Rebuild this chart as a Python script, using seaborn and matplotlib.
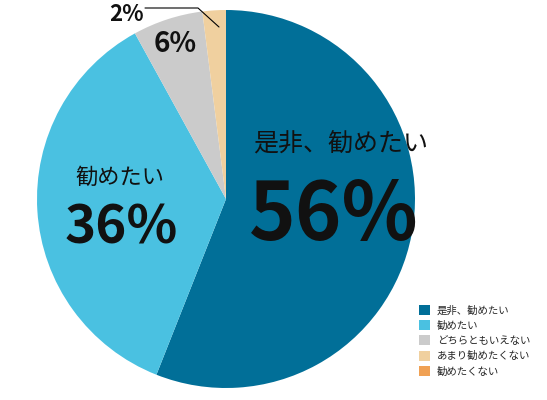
import matplotlib
matplotlib.use('Agg')
import matplotlib.pyplot as plt
import seaborn as sns
from matplotlib.patches import Patch

sns.set_style('white')
plt.rcParams['font.family'] = ['Noto Sans CJK JP', 'DejaVu Sans']

# data
categories = ['是非、勧めたい', '勧めたい', 'どちらともいえない', 'あまり勧めたくない', '勧めたくない']
values = [56, 36, 6, 2, 0]
colors = ['#016f98', '#4ac1e1', '#cbcbcb', '#f0d09f', '#f0a154']

W, H = 547, 400
def Y(py):
    # pixel row -> data y
    return H - py

fig = plt.figure(figsize=(W / 100, H / 100), dpi=100)
ax = fig.add_axes([0, 0, 1, 1])

ax.pie(values, colors=colors, startangle=90, counterclock=False,
       center=(226, Y(199)), radius=189,
       wedgeprops=dict(linewidth=0))
ax.set_xlim(0, W)
ax.set_ylim(0, H)
ax.set_aspect('equal')
ax.axis('off')

# slice labels
ax.text(341, Y(151), '是非、勧めたい', fontsize=18, ha='center', va='baseline', color='#111111')
ax.text(334, Y(240), '56%', fontsize=57, fontweight='bold', ha='center', va='baseline', color='#111111')
ax.text(120, Y(184), '勧めたい', fontsize=16, ha='center', va='baseline', color='#111111')
ax.text(121, Y(243), '36%', fontsize=38, fontweight='bold', ha='center', va='baseline', color='#111111')
ax.text(175, Y(52), '6%', fontsize=20, fontweight='bold', ha='center', va='baseline', color='#111111')
ax.text(126, Y(21), '2%', fontsize=16, fontweight='bold', ha='center', va='baseline', color='#111111')

# leader line for 2%
ax.plot([145, 198, 219], [Y(8), Y(8), Y(27)], color='black', linewidth=0.8)

handles = [Patch(facecolor=c, edgecolor='none') for c in colors]
ax.legend(handles, categories, loc='upper left',
          bbox_to_anchor=(419 / W, 1 - 305 / H), bbox_transform=fig.transFigure,
          frameon=False, fontsize=7.5, handlelength=1.1, handleheight=1.1,
          handletextpad=0.6, labelspacing=0.45, borderpad=0, borderaxespad=0)

fig.savefig('out.png', dpi=100)
